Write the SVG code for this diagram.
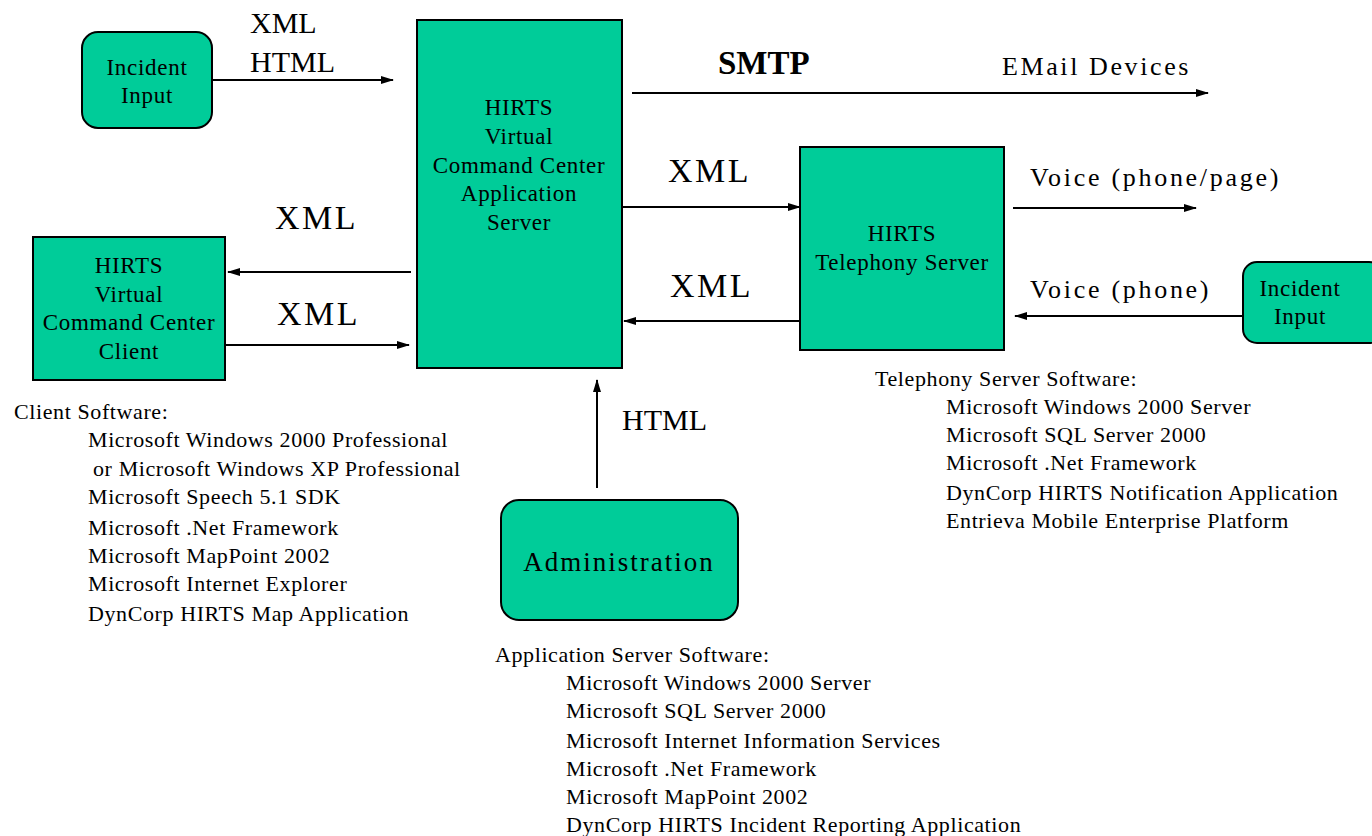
<svg xmlns="http://www.w3.org/2000/svg" width="1372" height="836" viewBox="0 0 1372 836">
<style>
.box{fill:#00CC99;stroke:#000;stroke-width:2}
.t{font-family:"Liberation Serif","Times New Roman",serif;fill:#000}
.nt{font-size:23px;letter-spacing:0.7px;text-anchor:middle}
.lb{font-size:30px}
.xl{font-size:34px;letter-spacing:2.5px}
.sw{font-size:22px;letter-spacing:0.6px}
.con{stroke:#000;stroke-width:2;fill:none;marker-end:url(#ah)}
</style>
<defs>
<marker id="ah" markerUnits="userSpaceOnUse" markerWidth="13" markerHeight="10" refX="12" refY="5" orient="auto">
<path d="M0,1 L13,5 L0,9 Z" fill="#000"/>
</marker>
</defs>
<rect width="1372" height="836" fill="#fff"/>
<g id="connectors">
<line class="con" x1="212" y1="80" x2="393" y2="80"/>
<line class="con" x1="632" y1="93" x2="1208" y2="93"/>
<line class="con" x1="622" y1="207" x2="800" y2="207"/>
<line class="con" x1="1013" y1="208" x2="1196" y2="208"/>
<line class="con" x1="1243" y1="316" x2="1015" y2="316"/>
<line class="con" x1="802" y1="321" x2="624" y2="321"/>
<line class="con" x1="411" y1="272" x2="228" y2="272"/>
<line class="con" x1="225" y1="345" x2="409" y2="345"/>
<line class="con" x1="597" y1="488" x2="597" y2="380"/>
</g>
<g id="labels" class="t">
<text class="lb" x="250" y="33">XML</text>
<text class="lb" x="250" y="72">HTML</text>
<text x="718" y="74" font-size="33" font-weight="bold">SMTP</text>
<text x="1002" y="75" font-size="26" letter-spacing="2.6">EMail Devices</text>
<text class="xl" x="668" y="182">XML</text>
<text class="xl" x="670" y="297">XML</text>
<text x="1030" y="186" font-size="26" letter-spacing="2.7">Voice (phone/page)</text>
<text x="1030" y="298" font-size="26" letter-spacing="2.7">Voice (phone)</text>
<text class="xl" x="275" y="229">XML</text>
<text class="xl" x="277" y="325">XML</text>
<text class="lb" x="622" y="430">HTML</text>
</g>
<g id="incident-input-left">
<rect class="box" x="82" y="32" width="130" height="96" rx="16"/>
<text class="t nt" x="147" y="75">Incident</text>
<text class="t nt" x="147" y="103">Input</text>
</g>
<g id="app-server">
<rect class="box" x="417" y="20" width="205" height="348"/>
<text class="t nt" x="519" y="115">HIRTS</text>
<text class="t nt" x="519" y="144">Virtual</text>
<text class="t nt" x="519" y="173">Command Center</text>
<text class="t nt" x="519" y="201">Application</text>
<text class="t nt" x="519" y="230">Server</text>
</g>
<g id="client">
<rect class="box" x="33" y="237" width="192" height="143"/>
<text class="t nt" x="129" y="273">HIRTS</text>
<text class="t nt" x="129" y="302">Virtual</text>
<text class="t nt" x="129" y="330">Command Center</text>
<text class="t nt" x="129" y="359">Client</text>
</g>
<g id="telephony-server">
<rect class="box" x="800" y="147" width="204" height="203"/>
<text class="t nt" x="902" y="241">HIRTS</text>
<text class="t nt" x="902" y="270">Telephony Server</text>
</g>
<g id="incident-input-right">
<rect class="box" x="1243" y="262" width="140" height="81" rx="14"/>
<text class="t nt" x="1300" y="296">Incident</text>
<text class="t nt" x="1300" y="324">Input</text>
</g>
<g id="administration">
<rect class="box" x="501" y="500" width="237" height="120" rx="18"/>
<text class="t" x="619" y="571" font-size="27" letter-spacing="2" text-anchor="middle">Administration</text>
</g>
<g id="client-software" class="t sw">
<text x="14" y="419">Client Software:</text>
<text x="88" y="447">Microsoft Windows 2000 Professional</text>
<text x="93" y="476">or Microsoft Windows XP Professional</text>
<text x="88" y="504">Microsoft Speech 5.1 SDK</text>
<text x="88" y="535">Microsoft .Net Framework</text>
<text x="88" y="563">Microsoft MapPoint 2002</text>
<text x="88" y="591">Microsoft Internet Explorer</text>
<text x="88" y="621">DynCorp HIRTS Map Application</text>
</g>
<g id="telephony-software" class="t sw">
<text x="875" y="386">Telephony Server Software:</text>
<text x="946" y="414">Microsoft Windows 2000 Server</text>
<text x="946" y="442">Microsoft SQL Server 2000</text>
<text x="946" y="470">Microsoft .Net Framework</text>
<text x="946" y="500">DynCorp HIRTS Notification Application</text>
<text x="946" y="528">Entrieva Mobile Enterprise Platform</text>
</g>
<g id="appserver-software" class="t sw">
<text x="495" y="662">Application Server Software:</text>
<text x="566" y="690">Microsoft Windows 2000 Server</text>
<text x="566" y="718">Microsoft SQL Server 2000</text>
<text x="566" y="748">Microsoft Internet Information Services</text>
<text x="566" y="776">Microsoft .Net Framework</text>
<text x="566" y="804">Microsoft MapPoint 2002</text>
<text x="566" y="832">DynCorp HIRTS Incident Reporting Application</text>
</g>
</svg>
